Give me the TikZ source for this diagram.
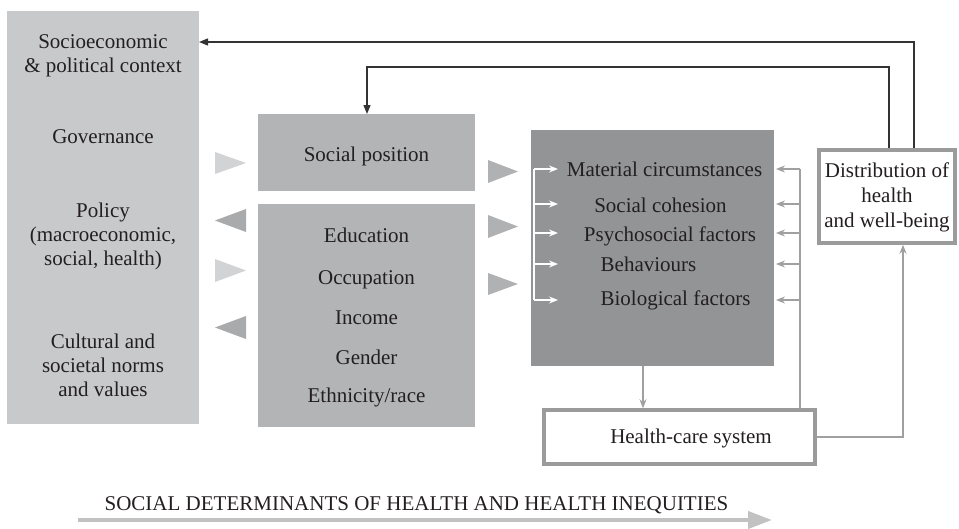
\documentclass[tikz,border=0pt]{standalone}
\usepackage{fontspec}
\setmainfont{LiberationSerif}[Extension=.ttf, UprightFont=*-Regular, BoldFont=*-Bold]
\usetikzlibrary{arrows.meta}
\definecolor{txt}{HTML}{231F20}
\definecolor{leftfill}{HTML}{C8C9CB}
\definecolor{midfill}{HTML}{B3B4B6}
\definecolor{darkfill}{HTML}{939496}
\definecolor{lighttri}{HTML}{D2D3D5}
\definecolor{darktri}{HTML}{A9AAAC}
\definecolor{midtri}{HTML}{B0B1B3}
\definecolor{bordergray}{HTML}{9B9B9B}
\definecolor{linegray}{HTML}{A0A0A0}
\definecolor{basegray}{HTML}{C2C2C2}
\definecolor{blackline}{HTML}{333333}
\tikzset{
  box/.style={rectangle, inner sep=0pt, outer sep=0pt, anchor=center},
  framebox/.style={rectangle, draw=bordergray, line width=3.5pt, fill=white, inner sep=0pt},
  lbl/.style={anchor=base, inner sep=0pt, text=txt, font=\rmfamily\fontsize{21}{23}\selectfont},
  blackarrow/.style={draw=blackline, line width=1.3pt, -{Triangle[length=9pt,width=7pt]}},
  grayarrow/.style={draw=linegray, line width=1.3pt, -{Stealth[length=9pt,width=7pt]}},
  grayline/.style={draw=linegray, line width=1.3pt},
  whitearrow/.style={draw=white, line width=1.2pt, -{Stealth[length=9pt,width=7pt]}},
  whiteline/.style={draw=white, line width=1.2pt},
}
\begin{document}
\begin{tikzpicture}[x=1pt,y=-1pt]
\useasboundingbox (0,0) rectangle (959,528);

% boxes
\node[box, fill=leftfill, minimum width=192pt, minimum height=413pt] (ctx) at (103,217.5) {};
\node[box, fill=midfill, minimum width=217pt, minimum height=77pt] (pos) at (366.5,152.5) {};
\node[box, fill=midfill, minimum width=217pt, minimum height=223pt] (strat) at (366.5,315.5) {};
\node[box, fill=darkfill, minimum width=243pt, minimum height=236pt] (inter) at (652.5,248) {};
\node[framebox, minimum width=136pt, minimum height=93pt] (dist) at (887,196.5) {};
\node[framebox, minimum width=271pt, minimum height=54pt] (hcs) at (679.5,437) {};

% left box text
\node[lbl] (t1) at (103,48) {Socioeconomic};
\node[lbl] (t2) at (103,72) {\& political context};
\node[lbl] (t3) at (103,143) {Governance};
\node[lbl] (t4) at (103,217) {Policy};
\node[lbl] (t5) at (103,241) {(macroeconomic,};
\node[lbl] (t6) at (103,265) {social, health)};
\node[lbl] (t7) at (103,348) {Cultural and};
\node[lbl] (t8) at (103,372) {societal norms};
\node[lbl] (t9) at (103,396) {and values};

% social position
\node[lbl] (sp) at (366.5,161) {Social position};
\node[lbl] (s1) at (366.5,242) {Education};
\node[lbl] (s2) at (366.5,284) {Occupation};
\node[lbl] (s3) at (366.5,324) {Income};
\node[lbl] (s4) at (366.5,364) {Gender};
\node[lbl] (s5) at (366.5,402) {Ethnicity/race};

% intermediary
\node[lbl] (m1) at (664.5,176) {Material circumstances};
\node[lbl] (m2) at (660.5,212) {Social cohesion};
\node[lbl] (m3) at (670,241) {Psychosocial factors};
\node[lbl] (m4) at (648.5,271) {Behaviours};
\node[lbl] (m5) at (675.5,305) {Biological factors};

% distribution and health-care
\node[lbl] (d1) at (887,177) {Distribution of};
\node[lbl] (d2) at (887,202) {health};
\node[lbl] (d3) at (887,227) {and well-being};
\node[lbl] (h1) at (691,443) {Health-care system};

% big triangles
\fill[lighttri] (215,152) -- (246,163) -- (215,174) -- cycle;
\fill[darktri] (246,209) -- (215,220.5) -- (246,232) -- cycle;
\fill[lighttri] (215,259) -- (246,270.5) -- (215,282) -- cycle;
\fill[darktri] (246,316) -- (215,327.5) -- (246,339) -- cycle;
\fill[midtri] (488,160) -- (518,171.5) -- (488,183) -- cycle;
\fill[midtri] (488,215) -- (518,226.5) -- (488,238) -- cycle;
\fill[midtri] (488,273) -- (518,284) -- (488,295) -- cycle;

% row coordinates
\foreach \i/\y in {1/169,2/204,3/233,4/264,5/300}{
  \coordinate (wl\i) at (534,\y);
  \coordinate (wr\i) at (558,\y);
  \coordinate (gr\i) at (800,\y);
  \coordinate (gl\i) at (776,\y);
}
% white arrows
\draw[whiteline] (wl1) -- (wl5);
\foreach \i in {1,...,5}{ \draw[whitearrow] (wl\i) -- (wr\i); }
% gray feedback arrows
\draw[grayline] (gr1) -- (hcs.north -| gr1);
\foreach \i in {1,...,5}{ \draw[grayarrow] (gr\i) -- (gl\i); }

% intermediary -> health-care
\coordinate (cx) at (643,0);
\draw[grayarrow] (inter.south -| cx) -- (hcs.north -| cx);
% health-care -> distribution
\coordinate (rx) at (903,0);
\draw[grayarrow] (hcs.east) -| (dist.south -| rx);

% black feedback
\coordinate (o1) at (914,42);
\draw[blackarrow] (dist.north -| o1) |- (ctx.east |- o1);
\coordinate (i1) at (889,67);
\coordinate (i2) at (367,67);
\draw[blackarrow] (dist.north -| i1) -- (i1) -- (i2) -- (pos.north -| i2);

% bottom
\node[lbl] (bt) at (416.5,510) {SOCIAL DETERMINANTS OF HEALTH AND HEALTH INEQUITIES};
\coordinate (b1) at (78,520);
\coordinate (b2) at (772,520);
\draw[draw=basegray, line width=4pt, -{Triangle[length=24pt,width=17pt]}] (b1) -- (b2);
\end{tikzpicture}
\end{document}
